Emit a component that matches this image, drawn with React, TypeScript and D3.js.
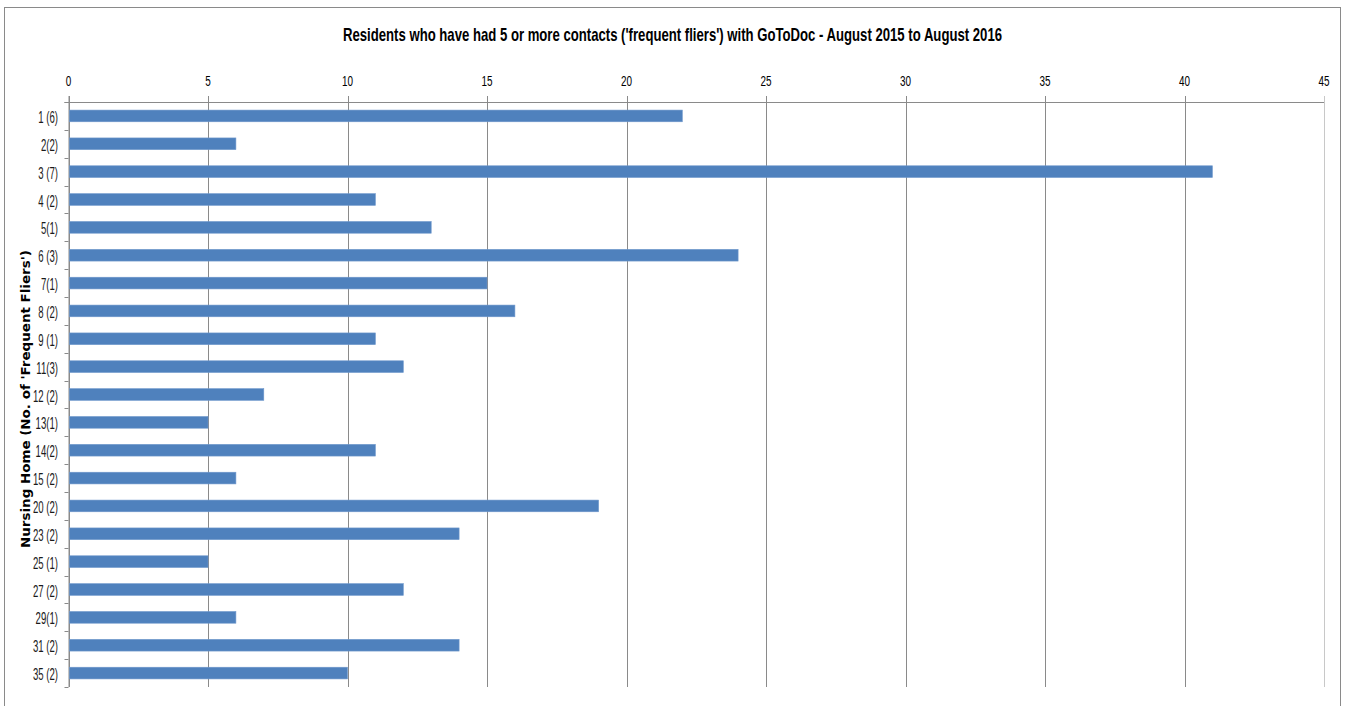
import React from "react";
import * as d3 from "d3";

const categories = ["1 (6)", "2(2)", "3 (7)", "4 (2)", "5(1)", "6 (3)", "7(1)", "8 (2)", "9 (1)", "11(3)", "12 (2)", "13(1)", "14(2)", "15 (2)", "20 (2)", "23 (2)", "25 (1)", "27 (2)", "29(1)", "31 (2)", "35 (2)"];
const values = [22, 6, 41, 11, 13, 24, 15, 16, 11, 12, 7, 5, 11, 6, 19, 14, 5, 12, 6, 14, 10];
const xTicks = [0, 5, 10, 15, 20, 25, 30, 35, 40, 45];
const title = "Residents who have had 5 or more contacts ('frequent fliers')  with GoToDoc - August 2015 to August 2016";
const yTitle = "Nursing Home (No. of 'Frequent Fliers')";

const W = 1346, H = 706;
const left = 68.5, right = 1324, top = 102, bottom = 687;
const font = "'Liberation Sans', Arial, sans-serif";

export default function App() {
  const x = d3.scaleLinear().domain([0, 45]).range([left, right]);
  const y = d3.scaleBand().domain(categories).range([top, bottom]).paddingInner(0.58).paddingOuter(0.29);
  const step = y.step();
  const boundaries = d3.range(categories.length + 1).map(i => top + i * step);
  return (
    <svg width={W} height={H} style={{ position: "absolute", left: 0, top: 0, background: "#fff" }}>
      <rect x={4.5} y={7.5} width={1336} height={720} fill="#fff" stroke="#8a8a8a" strokeWidth={1} />
      <text x={343} y={41} textLength={659} lengthAdjust="spacingAndGlyphs" fontFamily={font} fontWeight="bold" fontSize={18.5} fill="#000">{title}</text>
      {xTicks.map(t => (
        <g key={t}>
          <line x1={Math.round(x(t)) + 0.5} x2={Math.round(x(t)) + 0.5} y1={96} y2={bottom} stroke={t === 45 ? "#c8c8c8" : "#8a8a8a"} strokeWidth={1} />
          <text transform={`translate(${x(t)}, 86) scale(0.64, 1)`} textAnchor="middle" fontFamily={font} fontSize={15.5} fill="#000">{t}</text>
        </g>
      ))}
      <line x1={left - 4} x2={right} y1={top + 0.5} y2={top + 0.5} stroke="#8a8a8a" />
      <line x1={left + 0.5} x2={left + 0.5} y1={96} y2={bottom} stroke="#8a8a8a" />
      {boundaries.map((b, i) => (
        <line key={i} x1={left - 4} x2={left} y1={Math.round(b) + 0.5} y2={Math.round(b) + 0.5} stroke="#8a8a8a" />
      ))}
      {categories.map((c, i) => (
        <g key={c}>
          <rect x={x(0) + 1} y={y(c)!} width={x(values[i]) - x(0) - 1} height={y.bandwidth()} fill="#4f81bd" stroke="#6f98cc" strokeWidth={0.6} />
          <text transform={`translate(58, ${y(c)! + y.bandwidth() / 2 + 7}) scale(0.6, 1)`} textAnchor="end" fontFamily={font} fontSize={16} fill="#1a1a1a">{c}</text>
        </g>
      ))}
      <text transform={`translate(30, 399) rotate(-90)`} x={-149} y={0} textLength={298} lengthAdjust="spacingAndGlyphs" fontFamily="'DejaVu Sans', Verdana, sans-serif" fontWeight="bold" fontSize={11.5} fill="#000">{yTitle}</text>
    </svg>
  );
}
